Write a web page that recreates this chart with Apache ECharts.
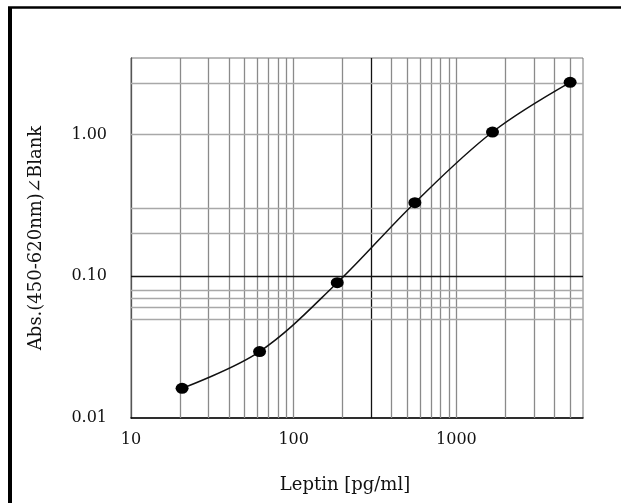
<!DOCTYPE html>
<html>
<head>
<meta charset="utf-8">
<script src="https://cdn.jsdelivr.net/npm/echarts@6/dist/echarts.min.js"></script>
<style>
  html, body { margin: 0; padding: 0; background: #fff; }
  #main { width: 621px; height: 503px; }
</style>
</head>
<body>
<div id="main"></div>
<script>
// Leptin 標準曲線
var conc = [20.6, 61.7, 185.2, 555.6, 1666.7, 5000];
var absVal = [0.0162, 0.0294, 0.090, 0.330, 1.04, 2.33];

// 格子線の位置 (データ値)
var xGridLines = [20, 30, 40, 50, 60, 70, 80, 90, 100, 200, 400, 500, 600, 700, 800, 900, 1000, 2000, 3000, 4000, 5000];
var xDarkLines = [300];
var yGridLines = [0.05, 0.06, 0.07, 0.08, 0.2, 0.3, 1, 2.3];
var yDarkLines = [0.1];

var xTickLabels = [10, 100, 1000];
var yTickLabels = [0.01, 0.1, 1];

var fontFam = 'DejaVu Serif';

function isTick(list, v) {
  for (var i = 0; i < list.length; i++) {
    if (Math.abs(list[i] - v) / list[i] < 1e-6) return true;
  }
  return false;
}

var gridMarks = [];
xGridLines.forEach(function (v) {
  gridMarks.push({ xAxis: v, lineStyle: { color: '#8a8a8a', width: 1.3, type: 'solid' } });
});
xDarkLines.forEach(function (v) {
  gridMarks.push({ xAxis: v, lineStyle: { color: '#111', width: 1.3, type: 'solid' } });
});
yGridLines.forEach(function (v) {
  gridMarks.push({ yAxis: v, lineStyle: { color: '#a8a8a8', width: 1.3, type: 'solid' } });
});
yDarkLines.forEach(function (v) {
  gridMarks.push({ yAxis: v, lineStyle: { color: '#111', width: 1.3, type: 'solid' } });
});

var chartData = conc.map(function (c, i) { return [c, absVal[i]]; });

var option = {
  backgroundColor: '#fff',
  animation: false,
  grid: {
    left: 131,
    right: 38,
    top: 58,
    bottom: 85,
    show: true,
    borderColor: '#777',
    borderWidth: 1
  },
  graphic: [
    { type: 'line', shape: { x1: 10, y1: 7, x2: 10, y2: 503 }, style: { stroke: '#000', lineWidth: 4 } },
    { type: 'line', shape: { x1: 8, y1: 7.5, x2: 621, y2: 7.5 }, style: { stroke: '#000', lineWidth: 2.5 } }
  ],
  xAxis: {
    type: 'log',
    logBase: 10,
    min: 10,
    max: 6000,
    name: 'Leptin [pg/ml]',
    nameLocation: 'middle',
    nameGap: 58,
    nameTextStyle: { color: '#111', fontFamily: fontFam, fontSize: 18, padding: [0, 24, 0, 0] },
    axisLine: { show: true, lineStyle: { color: '#000', width: 1.5 } },
    axisTick: { show: false },
    splitLine: { show: false },
    axisLabel: {
      color: '#111',
      fontFamily: fontFam,
      fontSize: 16,
      margin: 14,
      formatter: function (v) { return isTick(xTickLabels, v) ? String(Math.round(v)) : ''; }
    }
  },
  yAxis: {
    type: 'log',
    logBase: 10,
    min: 0.01,
    max: 3.46,
    name: 'Abs.(450-620nm)∠Blank',
    nameLocation: 'middle',
    nameGap: 86,
    nameTextStyle: { color: '#111', fontFamily: fontFam, fontSize: 18 },
    axisLine: { show: true, lineStyle: { color: '#555', width: 1.3 } },
    axisTick: { show: false },
    splitLine: { show: false },
    axisLabel: {
      color: '#111',
      fontFamily: fontFam,
      fontSize: 16,
      margin: 24,
      formatter: function (v) { return isTick(yTickLabels, v) ? v.toFixed(2) : ''; }
    }
  },
  series: [
    {
      type: 'line',
      data: chartData,
      smooth: 0.35,
      symbol: 'circle',
      symbolSize: [13, 11],
      itemStyle: { color: '#000' },
      lineStyle: { color: '#111', width: 1.5 },
      z: 5,
      markLine: {
        silent: true,
        symbol: ['none', 'none'],
        label: { show: false },
        animation: false,
        z: 1,
        data: gridMarks
      }
    }
  ]
};

var chart = echarts.init(document.getElementById('main'));
chart.setOption(option);
</script>
</body>
</html>
